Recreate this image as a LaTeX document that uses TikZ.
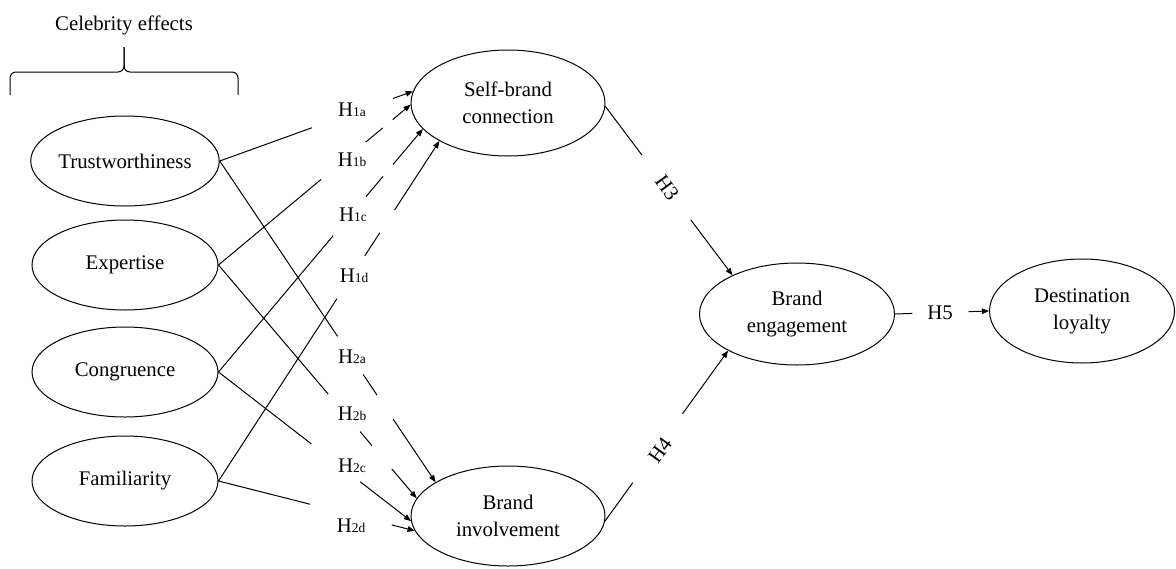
\documentclass[tikz,border=0pt]{standalone}
\usepackage{fontspec}
\setmainfont{Liberation Serif}
\usetikzlibrary{shapes.geometric,calc,arrows.meta}
\newcommand{\hsub}[1]{H{\fontsize{6.7}{7}\selectfont #1}}
\begin{document}
\begin{tikzpicture}[x=0.5pt, y=-0.5pt, line width=0.5pt,
	construct/.style={draw, ellipse, inner sep=0pt, align=center, font=\fontsize{10.4}{13.5}\selectfont},
	effect/.style={construct, minimum width=93pt, minimum height=45pt},
	hyp/.style={inner sep=0pt, font=\fontsize{10.4}{12}\selectfont},
	>={Triangle[length=3.6pt,width=2.8pt]}]
	\useasboundingbox (0,0) rectangle (1176,568);
	\node[hyp] (celeb) at (124,25) {Celebrity effects};
	\draw[rounded corners=3pt] (10,95) |- (124,72) -- (124,47);
	\draw[rounded corners=3pt] (238,95) |- (124,72) -- (124,47);
	\node[effect] (trust) at (125,161) {Trustworthiness};
	\node[effect] (exp) at (125,265) {Expertise};
	\node[effect] (cong) at (125,372) {Congruence};
	\node[effect] (fam) at (125,481) {Familiarity};
	\node[construct, minimum width=97pt, minimum height=53pt] (sbc) at (508,103) {Self-brand\\connection};
	\node[construct, minimum width=97pt, minimum height=50pt] (bi) at (508,516) {Brand\\involvement};
	\node[construct, minimum width=97.5pt, minimum height=51pt] (be) at (797,314) {Brand\\engagement};
	\node[construct, minimum width=92.5pt, minimum height=52pt] (dl) at (1082,311) {Destination\\loyalty};
	\node[hyp] (h1a) at (352,110) {\hsub{1a}};
	\node[hyp] (h1b) at (352,160) {\hsub{1b}};
	\node[hyp] (h1c) at (353,215) {\hsub{1c}};
	\node[hyp] (h1d) at (354,276) {\hsub{1d}};
	\node[hyp] (h2a) at (352,357) {\hsub{2a}};
	\node[hyp] (h2b) at (352,414) {\hsub{2b}};
	\node[hyp] (h2c) at (352,466) {\hsub{2c}};
	\node[hyp] (h2d) at (351,526) {\hsub{2d}};
	\node[hyp, rotate=-54] (h3) at (667,188) {H3};
	\node[hyp, rotate=54] (h4) at (660,450) {H4};
	\node[hyp] (h5) at (940,313) {H5};
	\draw[->] (trust.east) -- ($(trust.east)!0.477!(sbc.173)$) ($(trust.east)!0.897!(sbc.173)$) -- (sbc.173);
	\draw[->] (exp.east) -- ($(exp.east)!0.534!(sbc.181)$) ($(exp.east)!0.767!(sbc.181)$) -- ($(exp.east)!0.855!(sbc.181)$) ($(exp.east)!0.907!(sbc.181)$) -- (sbc.181);
	\draw[->] (cong.east) -- ($(cong.east)!0.561!(sbc.197)$) ($(cong.east)!0.722!(sbc.197)$) -- ($(cong.east)!0.805!(sbc.197)$) ($(cong.east)!0.854!(sbc.197)$) -- (sbc.197);
	\draw[->] (fam.east) -- ($(fam.east)!0.536!(sbc.209)$) ($(fam.east)!0.662!(sbc.209)$) -- ($(fam.east)!0.730!(sbc.209)$) ($(fam.east)!0.797!(sbc.209)$) -- (sbc.209);
	\draw[->] (trust.east) -- ($(trust.east)!0.546!(bi.155)$) ($(trust.east)!0.665!(bi.155)$) -- ($(trust.east)!0.729!(bi.155)$) ($(trust.east)!0.803!(bi.155)$) -- (bi.155);
	\draw[->] (exp.east) -- ($(exp.east)!0.553!(bi.169)$) ($(exp.east)!0.714!(bi.169)$) -- ($(exp.east)!0.774!(bi.169)$) ($(exp.east)!0.874!(bi.169)$) -- (bi.169);
	\draw[->] (cong.east) -- ($(cong.east)!0.482!(bi.183)$) ($(cong.east)!0.736!(bi.183)$) -- (bi.183);
	\draw[->] (fam.east) -- ($(fam.east)!0.467!(bi.189)$) ($(fam.east)!0.883!(bi.189)$) -- (bi.189);
	\draw[->] (sbc.-2) -- ($(sbc.-2)!0.289!(be.149)$) ($(sbc.-2)!0.672!(be.149)$) -- (be.149);
	\draw[->] (bi.-3) -- ($(bi.-3)!0.226!(be.208)$) ($(bi.-3)!0.629!(be.208)$) -- (be.208);
	\draw[->] (be.east) -- ($(be.east)!0.184!(dl.west)$) ($(be.east)!0.784!(dl.west)$) -- (dl.west);
\end{tikzpicture}
\end{document}
